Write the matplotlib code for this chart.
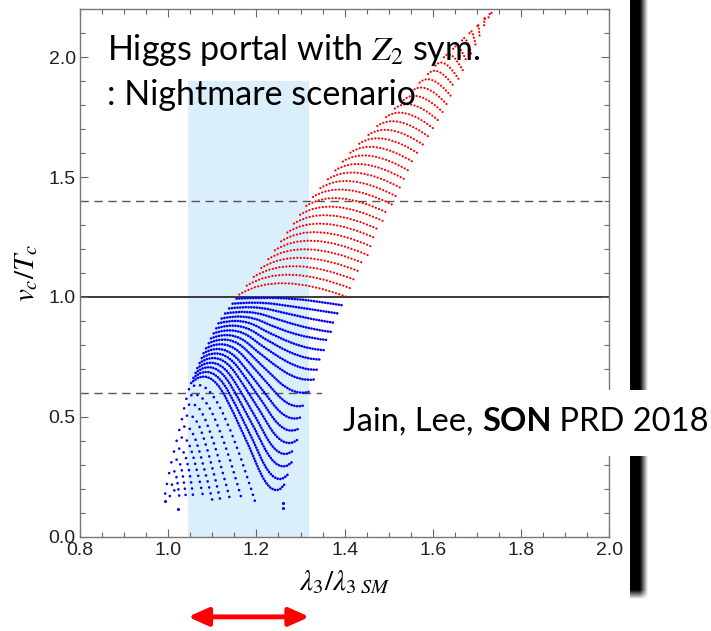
import matplotlib
matplotlib.use("Agg")
import numpy as np
import matplotlib.pyplot as plt
from matplotlib.path import Path
from matplotlib.patches import PathPatch, Rectangle
from matplotlib.ticker import MultipleLocator, FormatStrFormatter

plt.rcParams["mathtext.fontset"] = "stix"

# red arcs (v_c/T_c > 1): start on the left edge, control point, end on the right edge
red_x0 = [1.161, 1.178, 1.194, 1.211, 1.227, 1.242, 1.256, 1.270, 1.285, 1.299,
          1.313, 1.328, 1.345, 1.362, 1.379, 1.396, 1.413, 1.433, 1.454, 1.474,
          1.494, 1.514, 1.534, 1.552, 1.570, 1.589, 1.606, 1.625, 1.646, 1.666,
          1.683, 1.701, 1.718, 1.733]
red_y0 = [1.010, 1.047, 1.084, 1.121, 1.158, 1.195, 1.232, 1.269, 1.306, 1.343,
          1.380, 1.417, 1.454, 1.491, 1.528, 1.565, 1.602, 1.639, 1.676, 1.713,
          1.750, 1.786, 1.822, 1.858, 1.894, 1.930, 1.965, 2.000, 2.035, 2.070,
          2.100, 2.130, 2.160, 2.185]
red_cx = [1.246, 1.261, 1.275, 1.289, 1.303, 1.316, 1.328, 1.340, 1.353, 1.366,
          1.378, 1.391, 1.405, 1.420, 1.434, 1.449, 1.464, 1.481, 1.499, 1.516,
          1.532, 1.549, 1.565, 1.580, 1.595, 1.610, 1.624, 1.640, 1.657, 1.673,
          1.688, 1.703, 1.717, 1.730]
red_cy = [1.110, 1.145, 1.180, 1.214, 1.249, 1.284, 1.319, 1.354, 1.388, 1.423,
          1.458, 1.493, 1.528, 1.562, 1.597, 1.632, 1.667, 1.702, 1.736, 1.771,
          1.806, 1.840, 1.874, 1.907, 1.941, 1.975, 2.008, 2.041, 2.073, 2.106,
          2.134, 2.162, 2.190, 2.200]
red_x1 = [1.405, 1.415, 1.425, 1.435, 1.444, 1.452, 1.461, 1.470, 1.479, 1.489,
          1.498, 1.508, 1.517, 1.527, 1.537, 1.547, 1.558, 1.570, 1.582, 1.593,
          1.603, 1.613, 1.623, 1.631, 1.640, 1.649, 1.658, 1.668, 1.677, 1.687,
          1.697, 1.706, 1.716, 1.725]
red_y1 = [1.000, 1.035, 1.070, 1.105, 1.140, 1.175, 1.210, 1.245, 1.280, 1.315,
          1.350, 1.385, 1.420, 1.455, 1.490, 1.525, 1.560, 1.595, 1.630, 1.665,
          1.700, 1.735, 1.770, 1.805, 1.840, 1.875, 1.910, 1.945, 1.980, 2.015,
          2.050, 2.085, 2.120, 2.155]

# blue curves (v_c/T_c < 1): start, hump, descent, low point, end
blue_curves = [
    [(1.155, 0.993), (1.210, 0.998), (1.290, 0.993), (1.360, 0.975), (1.396, 0.965)],
    [(1.146, 0.972), (1.200, 0.981), (1.280, 0.961), (1.350, 0.941), (1.386, 0.931)],
    [(1.138, 0.952), (1.191, 0.965), (1.271, 0.930), (1.343, 0.901), (1.378, 0.892)],
    [(1.129, 0.931), (1.181, 0.948), (1.261, 0.898), (1.336, 0.861), (1.371, 0.854)],
    [(1.121, 0.910), (1.173, 0.932), (1.251, 0.865), (1.328, 0.825), (1.363, 0.820)],
    [(1.114, 0.890), (1.165, 0.916), (1.243, 0.834), (1.322, 0.780), (1.356, 0.778)],
    [(1.109, 0.869), (1.159, 0.899), (1.237, 0.802), (1.314, 0.738), (1.348, 0.739)],
    [(1.103, 0.848), (1.152, 0.882), (1.230, 0.770), (1.308, 0.691), (1.341, 0.697)],
    [(1.097, 0.827), (1.145, 0.865), (1.223, 0.738), (1.298, 0.646), (1.331, 0.656)],
    [(1.092, 0.807), (1.139, 0.849), (1.216, 0.706), (1.285, 0.588), (1.318, 0.604)],
    [(1.086, 0.786), (1.132, 0.832), (1.209, 0.674), (1.278, 0.527), (1.310, 0.549)],
    [(1.080, 0.765), (1.125, 0.815), (1.202, 0.642), (1.271, 0.471), (1.303, 0.500)],
    [(1.076, 0.745), (1.120, 0.799), (1.197, 0.611), (1.265, 0.416), (1.297, 0.452)],
    [(1.071, 0.724), (1.115, 0.783), (1.191, 0.579), (1.261, 0.359), (1.292, 0.403)],
    [(1.066, 0.703), (1.109, 0.766), (1.185, 0.547), (1.253, 0.308), (1.284, 0.361)],
    [(1.062, 0.683), (1.104, 0.750), (1.179, 0.515), (1.250, 0.251), (1.281, 0.3125)],
    [(1.057, 0.662), (1.098, 0.733), (1.173, 0.483), (1.243, 0.192), (1.273, 0.264)],
    [(1.052, 0.641), (1.092, 0.716), (1.167, 0.451), (1.237, 0.140), (1.265, 0.2225)],
]

# lowest curves, sparsely sampled: start, hump, descent, end
low_curves = [
    [(1.047, 0.615), (1.078, 0.672), (1.150, 0.430), (1.200, 0.128)],
    [(1.041, 0.575), (1.070, 0.630), (1.130, 0.400), (1.167, 0.153)],
    [(1.036, 0.535), (1.062, 0.590), (1.110, 0.370), (1.140, 0.156)],
    [(1.031, 0.490), (1.055, 0.540), (1.095, 0.340), (1.118, 0.153)],
    [(1.025, 0.445), (1.046, 0.490), (1.080, 0.310), (1.102, 0.136)],
    [(1.019, 0.400), (1.038, 0.440), (1.065, 0.290), (1.080, 0.160)],
    [(1.013, 0.355), (1.030, 0.390), (1.050, 0.270), (1.057, 0.160)],
    [(1.007, 0.310), (1.022, 0.340), (1.035, 0.250), (1.040, 0.165)],
    [(1.002, 0.265), (1.014, 0.290), (1.022, 0.220), (1.025, 0.170)],
    [(0.997, 0.220), (1.008, 0.240), (1.015, 0.185)],
    [(0.993, 0.180), (1.000, 0.190), (1.006, 0.160)],
]
stray_x = [1.261, 1.260, 1.023, 0.993]
stray_y = [0.139, 0.118, 0.114, 0.150]

band_lo, band_hi, band_top = 1.045, 1.32, 1.9
solid_level = 1.0
dashed_levels = [1.4, 0.6]


def smooth(pts):
    # quadratic B-spline through the guide points
    verts = [pts[0]]
    codes = [Path.MOVETO]
    for i in range(1, len(pts) - 1):
        if i == len(pts) - 2:
            nxt = pts[i + 1]
        else:
            nxt = ((pts[i][0] + pts[i + 1][0]) / 2, (pts[i][1] + pts[i + 1][1]) / 2)
        verts += [pts[i], nxt]
        codes += [Path.CURVE3, Path.CURVE3]
    return Path(verts, codes)


W, H = 711, 631
fig = plt.figure(figsize=(W / 100, H / 100), dpi=100)
ax = fig.add_axes([80 / W, 1 - 536.7 / H, 529.3 / W, 527.4 / H])
ax.set_xlim(0.8, 2.0)
ax.set_ylim(0, 2.2)

ax.fill_between([band_lo, band_hi], 0, band_top, color="#dbeefc", lw=0, zorder=0)
ax.axhline(solid_level, color="#3a3a3a", lw=1.4, zorder=1)
for lv in dashed_levels:
    ax.axhline(lv, color="#555555", lw=1.0, ls=(0, (6, 4)), zorder=1)

upper = Rectangle((0.8, solid_level), 1.2, 1.2, transform=ax.transData)
lower = Rectangle((0.8, 0.0), 1.2, solid_level, transform=ax.transData)


def draw(pts, lw, gap):
    path = smooth(pts)
    for col, clip in (("#ff0000", upper), ("#0000ff", lower)):
        p = PathPatch(path, fill=False, edgecolor=col, lw=lw,
                      ls=(0, (0.05, gap)), zorder=2)
        p.set_capstyle("round")
        ax.add_patch(p)
        p.set_clip_path(clip)


for i in range(len(red_x0)):
    draw([(red_x0[i], red_y0[i]), (red_cx[i], red_cy[i]), (red_x1[i], red_y1[i])], 1.6, 1.5)
for c in blue_curves:
    draw(c, 1.9, 1.0)
for c in low_curves:
    draw(c, 1.9, 2.3)
ax.scatter(stray_x, stray_y, s=5, color="#0000ff", lw=0, zorder=2)

ax.xaxis.set_major_locator(MultipleLocator(0.2))
ax.xaxis.set_minor_locator(MultipleLocator(0.05))
ax.yaxis.set_major_locator(MultipleLocator(0.5))
ax.yaxis.set_minor_locator(MultipleLocator(0.1))
ax.xaxis.set_major_formatter(FormatStrFormatter("%.1f"))
ax.yaxis.set_major_formatter(FormatStrFormatter("%.1f"))
ax.tick_params(which="both", direction="in", top=True, right=True, color="#666666", width=0.8)
ax.tick_params(which="major", length=6)
ax.tick_params(which="minor", length=3.5)
ax.tick_params(axis="x", pad=4)
ax.tick_params(axis="y", pad=3)
ax.tick_params(labelsize=14, labelcolor="#222222")
for lab in ax.get_xticklabels() + ax.get_yticklabels():
    lab.set_family("Liberation Sans")
for s in ax.spines.values():
    s.set_color("#777777")
    s.set_linewidth(1.0)

ax.set_xlabel(r"$\lambda_3/\lambda_{3\ SM}$", fontsize=21)
ax.xaxis.set_label_coords(0.5, -0.06)
ax.set_ylabel(r"$v_c/T_c$", fontsize=21)
ax.yaxis.set_label_coords(-0.075, 0.5)

fig.text(107 / W, 1 - 60 / H, r"Higgs portal with $Z_2$ sym.", family="Lato",
         fontsize=24.5, va="baseline")
fig.text(107 / W, 1 - 105 / H, ": Nightmare scenario", family="Lato",
         fontsize=24.5, va="baseline")

# arrow marking the band range
ax.annotate("", xy=(band_hi, -0.152), xytext=(band_lo, -0.152),
            xycoords=ax.get_xaxis_transform(), annotation_clip=False,
            arrowprops=dict(arrowstyle="<|-|>,head_length=1.0,head_width=0.45",
                            color="#ff0000", lw=3.5, shrinkA=0, shrinkB=0,
                            mutation_scale=12))

# black slide bar with a soft shadow on the right and bottom
bar_ax = fig.add_axes([630 / W, 1 - 602 / H, 20 / W, 602 / H])
bar_ax.set_axis_off()
gx = np.clip((np.arange(20) - 9.5) / 8.0, 0, 1)
gy = np.clip((np.arange(602) - 589.5) / 9.0, 0, 1)
alpha = (1 - gx[None, :]) * (1 - gy[:, None])
rgba = np.zeros((602, 20, 4))
rgba[..., 3] = alpha
bar_ax.imshow(rgba, aspect="auto", interpolation="bilinear", extent=(0, 20, 602, 0))
bar_ax.set_xlim(0, 20)
bar_ax.set_ylim(602, 0)

# citation box
fig.add_artist(Rectangle((322 / W, 1 - 456 / H), (W - 322) / W, 66 / H,
                         transform=fig.transFigure, color="white", lw=0, zorder=5))
t1 = fig.text(343 / W, 1 - 431 / H, "Jain, Lee, ", family="Lato", fontsize=23.5,
              va="baseline", zorder=6)
t2 = fig.text(0, 0, "SON", family="Lato", fontsize=23.5, weight="bold", zorder=6)
t3 = fig.text(0, 0, " PRD 2018", family="Lato", fontsize=23.5, zorder=6)
fig.canvas.draw()
r = fig.canvas.get_renderer()
bb = t1.get_window_extent(r)
t2.set_position((bb.x1 / fig.bbox.width, 1 - 431 / H))
t2.set_va("baseline")
bb = t2.get_window_extent(r)
t3.set_position((bb.x1 / fig.bbox.width, 1 - 431 / H))
t3.set_va("baseline")

fig.savefig("out.png", dpi=100)
